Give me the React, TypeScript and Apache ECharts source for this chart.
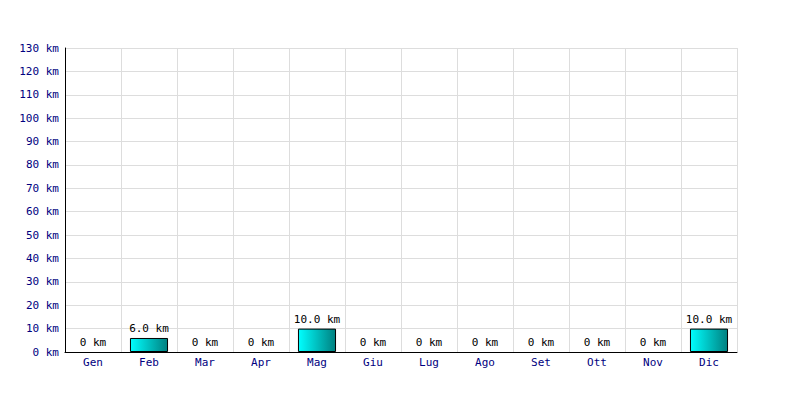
import React, { useEffect, useRef } from "react";
import * as echarts from "echarts";

const months = ["Gen", "Feb", "Mar", "Apr", "Mag", "Giu", "Lug", "Ago", "Set", "Ott", "Nov", "Dic"];
const distances = [0, 6, 0, 0, 10, 0, 0, 0, 0, 0, 0, 10];
const yMin = 0;
const yMax = 130;
const yStep = 10;

export default function App() {
  const ref = useRef<HTMLDivElement>(null);
  useEffect(() => {
    if (!ref.current) return;
    const chart = echarts.init(ref.current, null, { renderer: "svg" });
    const font = "'DejaVu Sans Mono', monospace";
    chart.setOption({
      animation: false,
      backgroundColor: "#ffffff",
      grid: { left: 65, right: 63, top: 48, bottom: 48, containLabel: false },
      xAxis: {
        type: "category",
        data: months,
        boundaryGap: true,
        axisLine: { show: true, lineStyle: { color: "#000000", width: 1 } },
        axisTick: { show: false },
        axisLabel: { color: "#000080", fontFamily: font, fontSize: 11, margin: 5 },
        splitLine: { show: true, lineStyle: { color: "#dddddd", width: 1 } },
      },
      yAxis: {
        type: "value",
        min: yMin,
        max: yMax,
        interval: yStep,
        axisLine: { show: true, lineStyle: { color: "#000000", width: 1 } },
        axisTick: { show: false },
        axisLabel: {
          color: "#000080",
          fontFamily: font,
          fontSize: 11,
          margin: 6,
          formatter: (v: number) => `${v} km`,
        },
        splitLine: { show: true, lineStyle: { color: "#dddddd", width: 1 } },
      },
      series: [
        {
          type: "bar",
          data: distances.map((v) => (v === 0 ? { value: v, itemStyle: { borderWidth: 0 } } : v)),
          barWidth: "68%",
          itemStyle: {
            color: new echarts.graphic.LinearGradient(0, 0, 1, 0, [
              { offset: 0, color: "#00ffff" },
              { offset: 1, color: "#008080" },
            ]),
            borderColor: "#000000",
            borderWidth: 1,
          },
          label: {
            show: true,
            position: "top",
            distance: 4,
            color: "#000000",
            fontFamily: font,
            fontSize: 11,
            formatter: (p: any) => (p.value === 0 ? "0 km" : `${Number(p.value).toFixed(1)} km`),
          },
        },
      ],
    });
    return () => chart.dispose();
  }, []);
  return <div ref={ref} style={{ width: 800, height: 400, margin: -8 }} />;
}
